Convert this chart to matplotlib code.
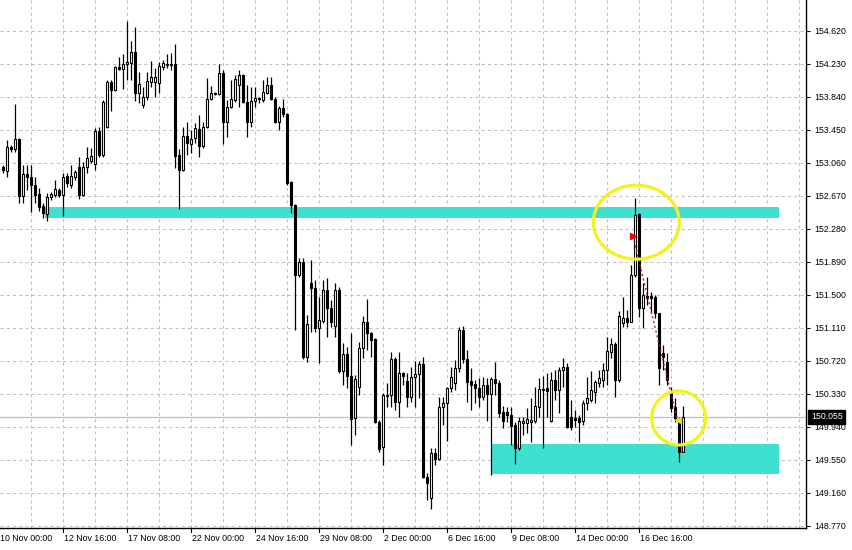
import numpy as np
import matplotlib
matplotlib.use("Agg")
import matplotlib.pyplot as plt
from matplotlib.patches import Ellipse, Rectangle

# H4 candles, one row per bar: open, high, low, close
opens = [153.006, 152.965, 153.242, 153.218, 153.336, 152.666, 152.923, 152.887, 152.796, 152.686,
         152.548, 152.454, 152.651, 152.678, 152.737, 152.678, 152.903, 152.796, 152.894, 153.013,
         152.678, 153.013, 153.083, 153.045, 153.435, 153.151, 153.485, 154.014, 153.919, 154.188,
         154.171, 154.223, 154.242, 154.365, 153.887, 153.742, 153.840, 154.017, 154.010, 154.005,
         154.195, 154.223, 154.215, 154.223, 153.151, 152.974, 153.375, 153.281, 153.348, 153.455,
         153.261, 153.478, 153.813, 153.868, 153.868, 154.124, 153.544, 153.715, 153.801, 153.978,
         154.093, 153.777, 153.544, 153.789, 153.821, 153.801, 153.887, 153.975, 153.813, 153.544,
         153.703, 153.636, 152.835, 152.560, 151.732, 151.883, 150.760, 151.634, 151.575, 151.102,
         151.192, 151.555, 151.339, 151.133, 151.555, 150.601, 150.799, 150.542, 150.039, 150.412,
         150.866, 151.180, 151.043, 150.972, 149.998, 149.703, 150.302, 150.314, 150.736, 150.228,
         150.571, 150.483, 150.294, 150.523, 150.562, 150.681, 149.348, 149.093, 149.625, 149.554,
         150.169, 150.216, 150.393, 150.459, 150.630, 151.082, 150.736, 150.480, 150.444, 150.393,
         150.287, 150.432, 150.326, 150.500, 150.459, 150.117, 150.117, 150.078, 149.959, 149.684,
         149.980, 149.987, 149.998, 150.010, 150.176, 150.373, 150.393, 150.010, 150.491, 150.373,
         150.610, 150.649, 150.058, 150.039, 150.039, 150.010, 150.216, 150.255, 150.353, 150.452,
         150.491, 150.610, 150.826, 150.913, 150.491, 151.162, 151.228, 151.180, 151.732, 152.450,
         151.346, 151.484, 151.484, 151.469, 151.280, 150.807, 150.701, 150.353, 150.176, 150.039,
         149.644]
highs = [153.033, 153.328, 153.269, 153.754, 153.352, 153.033, 153.033, 153.033, 152.894, 152.757,
         152.580, 152.705, 152.717, 152.855, 152.757, 152.935, 152.935, 153.033, 152.974, 153.131,
         153.072, 153.249, 153.230, 153.466, 153.485, 153.801, 154.037, 154.037, 154.203, 154.313,
         154.345, 154.738, 154.502, 154.660, 154.135, 153.958, 154.135, 154.266, 154.176, 154.254,
         154.274, 154.345, 154.353, 154.466, 153.222, 153.485, 153.544, 153.446, 153.526, 153.624,
         153.544, 154.057, 153.970, 153.899, 154.227, 154.156, 153.801, 154.037, 154.096, 154.156,
         154.108, 153.978, 153.951, 153.951, 153.840, 154.037, 154.069, 154.076, 153.833, 153.730,
         153.809, 153.644, 152.843, 152.572, 151.930, 151.930, 151.260, 151.910, 151.673, 151.476,
         151.673, 151.693, 151.437, 151.634, 151.587, 150.932, 150.885, 151.043, 150.550, 150.944,
         151.248, 151.449, 151.062, 150.984, 150.019, 150.334, 150.452, 150.826, 150.767, 150.826,
         150.589, 150.578, 150.649, 150.719, 150.719, 150.767, 149.389, 149.684, 149.684, 150.287,
         150.294, 150.405, 150.649, 150.728, 151.114, 151.130, 150.846, 150.630, 150.491, 150.511,
         150.530, 150.511, 150.530, 150.708, 150.491, 150.184, 150.176, 150.176, 149.998, 150.058,
         150.058, 150.157, 150.275, 150.412, 150.511, 150.539, 150.571, 150.589, 150.610, 150.649,
         150.748, 150.696, 150.255, 150.137, 150.078, 150.255, 150.530, 150.601, 150.491, 150.610,
         150.689, 151.003, 150.984, 150.944, 151.307, 151.476, 151.319, 151.851, 152.639, 152.462,
         151.634, 151.712, 151.535, 151.496, 151.280, 150.905, 150.807, 150.412, 150.275, 150.058,
         150.188]
lows = [152.935, 152.887, 153.186, 153.190, 152.580, 152.580, 152.737, 152.481, 152.580, 152.493,
        152.403, 152.374, 152.619, 152.658, 152.658, 152.430, 152.776, 152.757, 152.855, 152.627,
        152.666, 152.942, 153.053, 152.974, 153.131, 153.131, 153.466, 153.675, 153.911, 154.156,
        153.927, 154.037, 154.037, 153.793, 153.762, 153.703, 153.801, 153.951, 153.840, 153.880,
        154.156, 154.176, 154.156, 152.994, 152.516, 152.962, 153.151, 153.171, 153.289, 153.124,
        153.230, 153.466, 153.801, 153.860, 153.860, 153.281, 153.367, 153.703, 153.781, 153.715,
        153.762, 153.367, 153.485, 153.722, 153.762, 153.781, 153.872, 153.801, 153.526, 153.446,
        153.604, 152.796, 152.469, 151.082, 151.712, 150.736, 150.708, 151.062, 151.062, 150.689,
        151.162, 151.003, 151.121, 151.003, 150.578, 150.432, 150.393, 149.723, 149.841, 150.314,
        150.748, 150.846, 150.767, 149.980, 149.644, 149.487, 150.176, 150.176, 150.137, 150.050,
        150.432, 150.169, 150.235, 150.176, 150.275, 149.329, 149.073, 148.970, 149.487, 149.546,
        149.959, 149.774, 150.353, 150.373, 150.589, 150.689, 150.235, 150.137, 150.216, 150.176,
        150.255, 150.010, 149.368, 150.314, 150.058, 149.920, 149.998, 149.723, 149.499, 149.664,
        149.841, 149.861, 149.762, 149.980, 150.058, 149.684, 150.058, 149.998, 150.255, 150.098,
        150.412, 149.920, 149.900, 149.939, 149.762, 149.959, 150.137, 150.235, 150.216, 150.412,
        150.412, 150.432, 150.748, 150.294, 150.471, 151.121, 151.121, 151.173, 151.712, 151.240,
        151.102, 151.378, 151.280, 151.221, 150.432, 150.610, 150.432, 150.117, 149.998, 149.526,
        149.644]
closes = [152.974, 153.242, 153.218, 153.336, 152.666, 152.923, 152.887, 152.796, 152.678, 152.540,
          152.462, 152.651, 152.690, 152.745, 152.678, 152.887, 152.816, 152.903, 152.954, 152.678,
          153.013, 153.119, 153.139, 153.438, 153.151, 153.781, 154.014, 153.919, 154.188, 154.171,
          154.223, 154.254, 154.372, 153.887, 153.990, 153.840, 154.026, 154.069, 154.076, 154.203,
          154.235, 154.211, 154.223, 153.143, 152.974, 153.375, 153.289, 153.336, 153.466, 153.261,
          153.478, 153.813, 153.880, 153.880, 154.124, 153.544, 153.715, 153.809, 154.049, 154.093,
          153.774, 153.544, 153.789, 153.821, 153.809, 153.899, 153.975, 153.813, 153.544, 153.703,
          153.636, 152.823, 152.560, 151.732, 151.883, 150.760, 151.153, 151.575, 151.102, 151.201,
          151.555, 151.339, 151.180, 151.555, 150.601, 150.799, 150.542, 150.027, 150.503, 150.866,
          151.180, 151.043, 150.964, 149.998, 149.672, 150.314, 150.314, 150.736, 150.228, 150.571,
          150.542, 150.294, 150.523, 150.562, 150.681, 149.348, 149.277, 149.625, 149.554, 150.169,
          150.216, 150.393, 150.530, 150.630, 151.082, 150.736, 150.471, 150.432, 150.393, 150.287,
          150.432, 150.326, 150.500, 150.452, 150.098, 150.010, 150.078, 149.951, 149.684, 150.010,
          150.010, 150.027, 150.019, 150.184, 150.381, 150.381, 150.365, 150.491, 150.373, 150.610,
          150.649, 149.932, 149.932, 150.019, 149.998, 150.216, 150.275, 150.373, 150.471, 150.511,
          150.610, 150.834, 150.913, 150.491, 151.248, 151.221, 151.173, 151.732, 152.442, 151.346,
          151.496, 151.457, 151.457, 151.280, 150.630, 150.767, 150.491, 150.164, 150.039, 149.644,
          150.055]

time_labels = ["10 Nov 00:00", "12 Nov 16:00", "17 Nov 08:00", "22 Nov 00:00", "24 Nov 16:00",
               "29 Nov 08:00", "2 Dec 00:00", "6 Dec 16:00", "9 Dec 08:00", "14 Dec 00:00",
               "16 Dec 16:00"]
price_ticks = [148.770, 149.160, 149.550, 149.940, 150.330, 150.720, 151.110, 151.500, 151.890,
               152.280, 152.670, 153.060, 153.450, 153.840, 154.230, 154.620]
last_price = 150.055

# drawn objects: two zones, two circles, one trade
zone_upper = (10.3, 194.0, 152.410, 152.540)   # bar from, bar to, low, high
zone_lower = (122.0, 194.0, 149.377, 149.735)
circle_top = (158.25, 152.357, 21.5, 0.875)     # bar, price, width in bars, height in price
circle_bottom = (168.85, 150.042, 13.5, 0.638)
trade_open = (157.4, 152.193)
trade_close = (168.55, 150.019)

fig = plt.figure(figsize=(8.52, 5.5), dpi=100)
ax = fig.add_axes([0, 22 / 550, 806 / 852, 528 / 550])
ax.set_xlim(-0.825, 200.675)
ax.set_ylim(148.742, 154.983)

font = dict(family="Liberation Sans", size=6.3)

# grid
for p in price_ticks:
    ax.axhline(p, color="#c0c0c0", lw=0.75, ls=(0, (3, 3)), zorder=0)
for g in range(7, 201, 8):
    ax.axvline(g, color="#c0c0c0", lw=0.75, ls=(0, (3, 3)), zorder=0)

# zones
for x0, x1, lo, hi in (zone_upper, zone_lower):
    ax.add_patch(Rectangle((x0, lo), x1 - x0, hi - lo, facecolor="#40e0d0",
                           edgecolor="none", zorder=1))

# current price line
ax.axhline(last_price, color="#c0c0c0", lw=0.9, zorder=1.5)

# candles
o = np.array(opens)
h = np.array(highs)
l = np.array(lows)
c = np.array(closes)
idx = np.arange(len(o))
ax.vlines(idx, l, h, color="black", lw=0.9, zorder=2)
up = c >= o
body_lo = np.minimum(o, c)
body_h = np.maximum(np.abs(c - o), 0.004)
ax.bar(idx[up], body_h[up], bottom=body_lo[up], width=0.55, color="white",
       edgecolor="black", linewidth=0.8, zorder=3)
ax.bar(idx[~up], body_h[~up], bottom=body_lo[~up], width=0.55, color="black",
       edgecolor="black", linewidth=0.8, zorder=3)

# trade line with arrows
ax.plot([trade_open[0], trade_close[0]], [trade_open[1], trade_close[1]],
        color="#b22222", lw=1.0, ls=(0, (1.5, 2)), zorder=4)
ax.plot(*trade_open, marker=">", color="red", ms=4.5, zorder=5)
ax.plot(*trade_close, marker="<", color="#e6e600", ms=4.5, zorder=5)

# yellow circles
for cx, cy, w, hh in (circle_top, circle_bottom):
    ax.add_patch(Ellipse((cx, cy), w, hh, fill=False, edgecolor="#f2f21e", lw=2.3, zorder=6))

# axes look
for side in ("left", "top"):
    ax.spines[side].set_visible(False)
ax.spines["right"].set_linewidth(1.0)
ax.spines["bottom"].set_linewidth(1.0)
ax.yaxis.tick_right()
ax.set_yticks(price_ticks)
ax.set_yticklabels([f"{p:.3f}" for p in price_ticks], **font)
ax.tick_params(axis="y", length=3, width=0.8, pad=3, direction="out")
ax.set_xticks([])

# time labels every 16 bars, left aligned at the tick
for i, lab in enumerate(time_labels):
    xb = i * 16 - 1
    ax.plot([xb, xb], [0, -0.008], transform=ax.get_xaxis_transform(),
            color="black", lw=0.8, clip_on=False)
    ax.text(xb + 0.3, -0.012, lab, transform=ax.get_xaxis_transform(),
            ha="left", va="top", **font)

# partly hidden top label and the current price box
ax.text(1.0, 155.010, "  155.010", transform=ax.get_yaxis_transform(),
        ha="left", va="center", clip_on=False, **font)
ax.text(1.006, last_price, "150.055", transform=ax.get_yaxis_transform(),
        ha="left", va="center", color="white", clip_on=False,
        bbox=dict(boxstyle="square,pad=0.3", facecolor="black", edgecolor="black"), **font)

fig.savefig("out.png", dpi=100, facecolor="white")
